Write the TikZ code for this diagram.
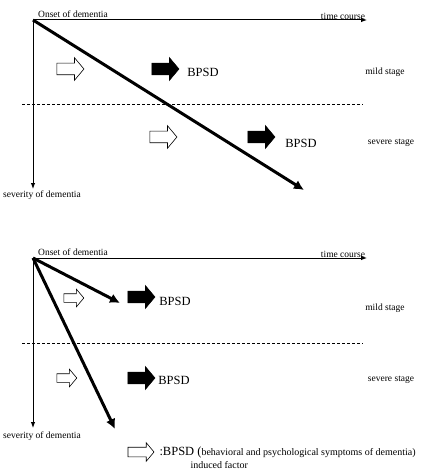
\documentclass[tikz,border=0pt]{standalone}
\usepackage{fontspec}
\setmainfont{Liberation Serif}
\usetikzlibrary{arrows.meta,shapes.arrows}

\tikzset{
  fullarr/.style={single arrow, fill=black, draw=black, line width=0.6pt, inner xsep=0pt, inner ysep=5.5pt,
    minimum height=27pt, minimum width=22pt, single arrow head extend=5.5pt, single arrow tip angle=100},
  openarr/.style={fullarr, fill=white},
  smallarr/.style={minimum height=20pt, minimum width=17pt, inner ysep=4pt, single arrow head extend=4.5pt},
  lbl/.style={font=\fontsize{9.5}{11}\selectfont, inner sep=0pt},
  bpsd/.style={font=\fontsize{12.5}{14}\selectfont, inner sep=0pt},
}

\begin{document}
\begin{tikzpicture}[x=1pt,y=-1pt,line width=1pt,>={Latex[length=6pt,width=4.5pt]}]
  \useasboundingbox (0,0) rectangle (424,473);
  % upper panel
  \coordinate (o1) at (33,20);
  \coordinate (t1) at (367,20);
  \coordinate (s1) at (33,189);
  \coordinate (d1) at (304,190);
  \draw[->] (o1) -- (t1);
  \draw[->] (o1) -- (s1);
  \draw[->,line width=3pt,>={Latex[length=10pt,width=10pt]}] (o1) -- (d1);
  \draw[dash pattern=on 3pt off 2pt] (22,105) -- (363,105);
  \node[lbl] (on1) at (73,14) {Onset of dementia};
  \node[lbl] (tc1) at (343,16) {time course};
  \node[lbl] (sv1) at (42,195) {severity of dementia};
  \node[openarr] (a1) at (68,69) {};
  \node[fullarr] (b1) at (163,69) {};
  \node[bpsd] (p1) at (203,72) {BPSD};
  \node[lbl] (m1) at (385,72) {mild stage};
  \node[openarr] (a2) at (161,137) {};
  \node[fullarr] (b2) at (259,137) {};
  \node[bpsd] (p2) at (301,143) {BPSD};
  \node[lbl] (v1) at (391,143) {severe stage};
  % lower panel
  \coordinate (o2) at (33,258);
  \coordinate (t2) at (367,258);
  \coordinate (s2) at (33,428);
  \coordinate (d2) at (120,303);
  \coordinate (d3) at (115,429);
  \draw[->] (o2) -- (t2);
  \draw[->] (o2) -- (s2);
  \draw[->,line width=3pt,>={Latex[length=10pt,width=10pt]}] (o2) -- (d2);
  \draw[->,line width=3pt,>={Latex[length=10pt,width=10pt]}] (o2) -- (d3);
  \draw[dash pattern=on 3pt off 2pt] (22,343) -- (363,343);
  \node[lbl] (on2) at (73,252) {Onset of dementia};
  \node[lbl] (tc2) at (343,254) {time course};
  \node[lbl] (sv2) at (42,436) {severity of dementia};
  \node[openarr,smallarr] (a3) at (72,298) {};
  \node[fullarr] (b3) at (139,297) {};
  \node[bpsd] (p3) at (175,301) {BPSD};
  \node[lbl] (m2) at (385,308) {mild stage};
  \node[openarr,smallarr] (a4) at (65,378) {};
  \node[fullarr] (b4) at (139,378) {};
  \node[bpsd] (p4) at (174,380) {BPSD};
  \node[lbl] (v2) at (391,380) {severe stage};
  % legend
  \node[openarr,minimum height=26pt,minimum width=18pt,inner ysep=4.5pt,single arrow head extend=4.5pt] (a5) at (139,452) {};
  \node[bpsd,anchor=west] (lg) at (159,452) {:BPSD (\fontsize{10}{12}\selectfont behavioral and psychological symptoms of dementia)};
  \node[lbl,font=\fontsize{10}{12}\selectfont,anchor=west] (lf) at (190,465) {induced factor};
\end{tikzpicture}
\end{document}
